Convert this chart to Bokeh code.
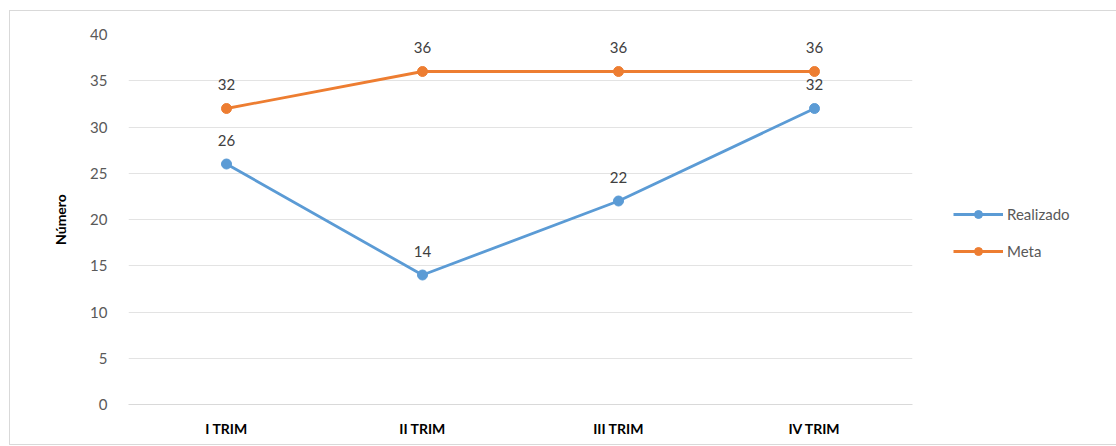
from bokeh.plotting import figure
from bokeh.models import ColumnDataSource, LabelSet, Legend, LegendItem, FactorRange, SingleIntervalTicker
from bokeh.core.properties import value
from bokeh.embed import file_html
from bokeh.resources import INLINE

categories = ["I TRIM", "II TRIM", "III TRIM", "IV TRIM"]
realizado = [26, 14, 22, 32]
meta = [32, 36, 36, 36]

BLUE = "#5B9BD5"
ORANGE = "#ED7D31"
FONT = "Lato"

p = figure(x_range=FactorRange(*categories, range_padding=0), y_range=(0, 40),
           frame_width=784, frame_height=370,
           min_border_left=118, min_border_right=203, min_border_top=23, min_border_bottom=40,
           output_backend="svg", toolbar_location=None)
p.styles = {"border": "1px solid #d9d9d9", "margin-left": "9px", "margin-top": "10px"}
p.outline_line_color = None
p.background_fill_color = "white"

src_r = ColumnDataSource(dict(x=categories, y=realizado, t=[str(v) for v in realizado]))
src_m = ColumnDataSource(dict(x=categories, y=meta, t=[str(v) for v in meta]))

lr = p.line("x", "y", source=src_r, line_color=BLUE, line_width=2.8)
cr = p.scatter("x", "y", source=src_r, size=10, fill_color=BLUE, line_color=BLUE)
lm = p.line("x", "y", source=src_m, line_color=ORANGE, line_width=2.8)
cm = p.scatter("x", "y", source=src_m, size=10, fill_color=ORANGE, line_color=ORANGE)

for src in (src_r, src_m):
    p.add_layout(LabelSet(x="x", y="y", text="t", source=src, y_offset=24,
                          text_align="center", text_baseline="middle",
                          text_font=value(FONT), text_font_size="15px", text_color="#404040"))

p.yaxis.ticker = SingleIntervalTicker(interval=5)
p.yaxis.axis_line_color = None
p.yaxis.major_tick_line_color = None
p.yaxis.minor_tick_line_color = None
p.yaxis.major_label_text_font = FONT
p.yaxis.major_label_text_font_size = "15px"
p.yaxis.major_label_text_color = "#595959"
p.yaxis.major_label_standoff = 15
p.yaxis.axis_label = "Número"
p.yaxis.axis_label_text_font = FONT
p.yaxis.axis_label_text_font_size = "14px"
p.yaxis.axis_label_text_font_style = "bold"
p.yaxis.axis_label_text_color = "#000000"
p.yaxis.axis_label_standoff = 18

p.xaxis.axis_line_color = "#d9d9d9"
p.xaxis.major_tick_line_color = None
p.xaxis.minor_tick_line_color = None
p.xaxis.major_label_text_font = FONT
p.xaxis.major_label_text_font_size = "14px"
p.xaxis.major_label_text_font_style = "bold"
p.xaxis.major_label_text_color = "#000000"
p.xaxis.major_label_standoff = 9

p.xgrid.grid_line_color = None
p.ygrid.grid_line_color = "#e3e3e3"
p.ygrid.grid_line_width = 1

legend = Legend(items=[LegendItem(label="Realizado", renderers=[lr, cr]),
                       LegendItem(label="Meta", renderers=[lm, cm])],
                location=(41, 143), glyph_width=50, glyph_height=20, label_height=20,
                spacing=17, padding=0, margin=0, border_line_color=None,
                background_fill_alpha=0, label_text_font=FONT, label_text_font_size="15px",
                label_text_color="#595959", label_standoff=4)
p.add_layout(legend, "right")

open("out.html", "w").write(file_html(p, INLINE))
